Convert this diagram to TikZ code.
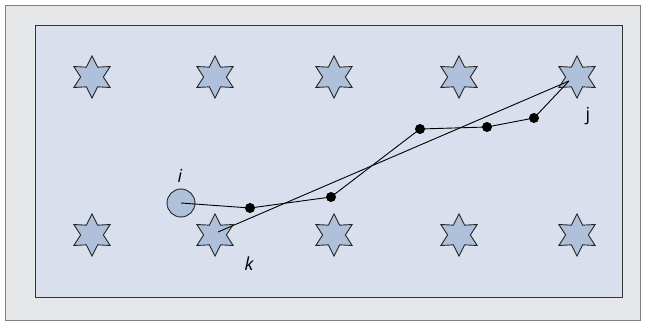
\documentclass[tikz,border=0pt]{standalone}
\usepackage{fontspec}
\setmainfont{Open Sans}
\usetikzlibrary{shapes.geometric}
\definecolor{pagegray}{HTML}{E6E7E9}
\definecolor{fieldblue}{HTML}{D9DFEC}
\definecolor{starblue}{HTML}{AFC0DA}

\begin{document}
\begin{tikzpicture}[x=1pt,y=-1pt,font=\fontsize{18}{20}\selectfont,
   sensor/.style={draw=black!85,fill=starblue,line width=0.9pt,shape=star,
      star points=6,star point ratio=1.85,minimum size=42pt,inner sep=0pt},
   hop/.style={circle,fill=black,inner sep=0pt,minimum size=10pt},
   src/.style={circle,draw=black!85,fill=starblue,line width=0.9pt,
      minimum size=28pt,inner sep=0pt},
   link/.style={line width=0.9pt}]
  \useasboundingbox (0,0) rectangle (646,326);
  % frames
  \draw[fill=pagegray,draw=black!50,line width=1pt] (5.5,5.5) rectangle (640.5,320.5);
  \draw[fill=fieldblue,draw=black!80,line width=1pt] (35,26) rectangle (622,297);
  % sensor grid
  \foreach \x [count=\c] in {92,215,334,459,577}{
    \node[sensor] (a\c) at (\x,77) {};
    \node[sensor] (b\c) at (\x,235) {};
  }
  % endpoints of the links inside the stars
  \coordinate (jin) at (569,81);
  \coordinate (kin) at (218,232);
  % source and relays
  \node[src] (i) at (181,203) {};
  \node[hop] (h1) at (250,208) {};
  \node[hop] (h2) at (331,197) {};
  \node[hop] (h3) at (420,129) {};
  \node[hop] (h4) at (487,127) {};
  \node[hop] (h5) at (534,118) {};
  % routes
  \draw[link] (i.center) -- (h1.center) -- (h2.center) -- (h3.center)
     -- (h4.center) -- (h5.center) -- (jin);
  \draw[link] (kin) -- (jin);
  % labels
  \node (li) at (180,176) {\itshape i};
  \node (lk) at (249,264) {\itshape k};
  \node (lj) at (588,116) {j};
\end{tikzpicture}
\end{document}
